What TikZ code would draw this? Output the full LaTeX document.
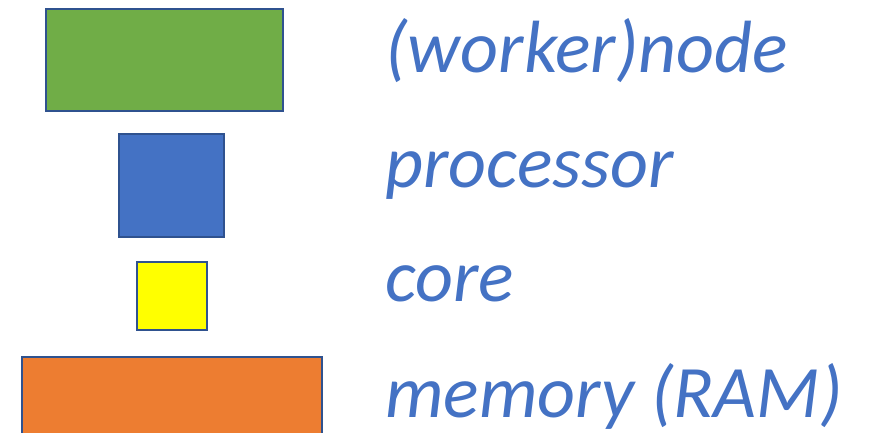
\documentclass[tikz,border=0pt]{standalone}
\usepackage{fontspec}
\setmainfont{Carlito}
\definecolor{nodegreen}{HTML}{70AD47}
\definecolor{procblue}{HTML}{4472C4}
\definecolor{coreyellow}{HTML}{FFFF00}
\definecolor{ramorange}{HTML}{ED7D31}
\definecolor{edgeblue}{HTML}{2F528F}
\begin{document}
\begin{tikzpicture}[x=0.5pt, y=-0.5pt,
        box/.style={draw=edgeblue, line width=1.1pt},
        lbl/.style={anchor=base west, inner sep=0pt, text=procblue,
            font=\fontsize{37}{44}\selectfont\itshape}]
    \clip (0,0) rectangle (869,433);
    \useasboundingbox (0,0) rectangle (869,433);
    \draw[box, fill=nodegreen] (46,9) rectangle (283,111);
    \draw[box, fill=procblue] (119,134) rectangle (224,237);
    \draw[box, fill=coreyellow] (137,262) rectangle (207,330);
    \draw[box, fill=ramorange] (22,357) rectangle (322,470);
    \node[lbl] (worker) at (385,73) {(worker)node};
    \node[lbl] (proc) at (385,188) {processor};
    \node[lbl] (core) at (385,302) {core};
    \node[lbl] (ram) at (385,417) {memory (RAM)};
\end{tikzpicture}
\end{document}
